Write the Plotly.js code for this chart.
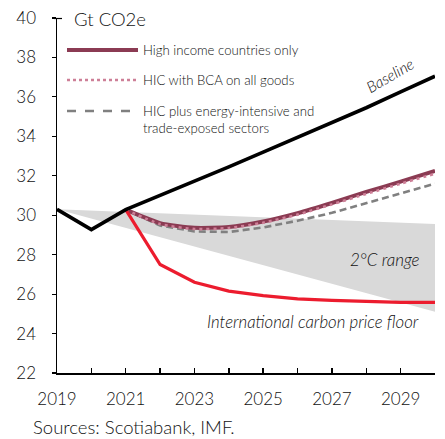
<!DOCTYPE html>
<html>
<head>
<meta charset="utf-8">
<script src="https://cdn.plot.ly/plotly-3.0.1.min.js"></script>
<style>
  html, body { margin: 0; padding: 0; background: #fff; }
  #chart { width: 445px; height: 439px; }
</style>
</head>
<body>
<div id="chart"></div>
<script>
// Global emissions paths, Gt CO2e
const years = [2019, 2020, 2021, 2022, 2023, 2024, 2025, 2026, 2027, 2028, 2029, 2030];
const baseline = [30.3, 29.27, 30.28, 31.0, 31.7, 32.45, 33.2, 33.95, 34.7, 35.45, 36.25, 37.05];

const policyYears = [2021, 2022, 2023, 2024, 2025, 2026, 2027, 2028, 2029, 2030];
const hicOnly   = [30.28, 29.6, 29.36, 29.4, 29.68, 30.1, 30.62, 31.18, 31.7, 32.25];
const hicBca    = [30.28, 29.55, 29.3, 29.35, 29.62, 30.03, 30.55, 31.08, 31.6, 32.1];
const hicEites  = [30.28, 29.48, 29.18, 29.15, 29.38, 29.72, 30.12, 30.6, 31.1, 31.6];
const priceFloor = [30.28, 27.5, 26.6, 26.15, 25.92, 25.76, 25.68, 25.62, 25.58, 25.58];

// 2°C range band edges
const bandYears = [2019, 2030];
const bandUpper = [30.3, 29.55];
const bandLower = [30.3, 25.1];

const xTickVals = [2019, 2020, 2021, 2022, 2023, 2024, 2025, 2026, 2027, 2028, 2029, 2030];
const xTickText = ['2019', '', '2021', '', '2023', '', '2025', '', '2027', '', '2029', ''];
const yTickVals = [22, 24, 26, 28, 30, 32, 34, 36, 38, 40];

const seriesNames = ['High income countries only', 'HIC with BCA on all goods',
                     'HIC plus energy-intensive and<br>trade-exposed sectors'];

const FONT = 'Lato, "Open Sans", sans-serif';
const WT = 300;
const INK = '#111';
const C_HIC = '#8b3b53', C_BCA = '#cd7f97', C_EITE = '#808080', C_RED = '#ec1c2e';

// plot area in pixels: x 57..435, y 18..373
const W = 445, H = 439, L = 57, R = 10, T = 18, B = 66;
const pw = W - L - R, ph = H - T - B;
const px = x => (x - L) / pw;
const py = y => (H - B - y) / ph;
const f = (size) => ({ family: FONT, size: size, color: INK, weight: WT });

const traces = [
  { x: bandYears, y: bandLower, mode: 'lines', line: { width: 0, color: 'rgba(0,0,0,0)' },
    hoverinfo: 'skip', showlegend: false },
  { x: bandYears, y: bandUpper, mode: 'lines', line: { width: 0, color: 'rgba(0,0,0,0)' },
    fill: 'tonexty', fillcolor: '#d9d9d9', hoverinfo: 'skip', showlegend: false },
  { x: policyYears, y: hicEites, mode: 'lines', name: seriesNames[2],
    line: { color: C_EITE, width: 2.6, dash: '7px,4px' }, showlegend: false },
  { x: policyYears, y: hicOnly, mode: 'lines', name: seriesNames[0],
    line: { color: C_HIC, width: 4, shape: 'spline', smoothing: 0.6 }, showlegend: false },
  { x: policyYears, y: hicBca, mode: 'lines', name: seriesNames[1],
    line: { color: C_BCA, width: 2.6, dash: '3px,4px', shape: 'spline', smoothing: 0.6 }, showlegend: false },
  { x: policyYears, y: priceFloor, mode: 'lines', name: 'International carbon price floor',
    line: { color: C_RED, width: 3.2 }, showlegend: false },
  { x: years, y: baseline, mode: 'lines', name: 'Baseline',
    line: { color: '#000', width: 3.6 }, showlegend: false }
];

// hand-drawn legend (long line samples)
const legendRows = [
  { y: 50, color: C_HIC, width: 4, dash: 'solid', text: seriesNames[0] },
  { y: 80, color: C_BCA, width: 2.6, dash: 'dot', text: seriesNames[1] },
  { y: 111, color: C_EITE, width: 2.6, dash: 'dash', text: seriesNames[2] }
];

const shapes = legendRows.map(r => ({
  type: 'line', xref: 'paper', yref: 'paper',
  x0: px(67), x1: px(138), y0: py(r.y), y1: py(r.y),
  line: { color: r.color, width: r.width, dash: r.dash }
}));
// small cap on top of the y axis
shapes.push({ type: 'line', xref: 'paper', yref: 'paper', x0: px(54), x1: px(62),
  y0: py(18.5), y1: py(18.5), line: { color: '#000', width: 1.2 } });

const annotations = legendRows.map(r => ({
  xref: 'paper', yref: 'paper', x: px(141), y: py(r.y + (r.text.includes('<br>') ? 9 : 0)),
  xanchor: 'left', yanchor: 'middle', align: 'left', showarrow: false,
  text: r.text, font: f(13.2)
}));

annotations.push(
  { xref: 'paper', yref: 'paper', x: px(72), y: py(19), xanchor: 'left', yanchor: 'middle',
    showarrow: false, text: 'Gt CO2e', font: f(18.5) },
  { x: 2028.7, y: 37.1, xref: 'x', yref: 'y', showarrow: false, textangle: -30,
    text: '<i>Baseline</i>', font: f(15.5) },
  { x: 2028.55, y: 27.73, xref: 'x', yref: 'y', showarrow: false,
    text: '<i>2°C range</i>', font: f(17) },
  { x: 2026.46, y: 24.62, xref: 'x', yref: 'y', showarrow: false,
    text: '<i>International carbon price floor</i>', font: f(16.8) },
  { xref: 'paper', yref: 'paper', x: px(31), y: py(427), xanchor: 'left', yanchor: 'middle',
    showarrow: false, text: 'Sources: Scotiabank, IMF.', font: f(18.5) }
);

const layout = {
  width: W, height: H,
  margin: { l: L, r: R, t: T, b: B },
  paper_bgcolor: '#fff', plot_bgcolor: '#fff',
  font: { family: FONT, color: INK, weight: WT },
  showlegend: false,
  xaxis: {
    range: [2019, 2030], tickmode: 'array', tickvals: xTickVals, ticktext: xTickText,
    ticks: 'inside', ticklen: 5, tickwidth: 1.5, tickcolor: '#000',
    showline: true, linecolor: '#000', linewidth: 2, showgrid: false, zeroline: false,
    tickfont: f(17), ticklabelstandoff: 10,
    fixedrange: true
  },
  yaxis: {
    range: [22, 40], tickmode: 'array', tickvals: yTickVals,
    ticks: 'outside', ticklen: 4, tickwidth: 1.2, tickcolor: '#000',
    showline: true, linecolor: '#000', linewidth: 1.5, showgrid: false, zeroline: false,
    tickfont: f(17), ticklabelstandoff: 12,
    fixedrange: true
  },
  shapes: shapes,
  annotations: annotations
};

Plotly.newPlot('chart', traces, layout, { displayModeBar: false, staticPlot: true });
</script>
</body>
</html>
